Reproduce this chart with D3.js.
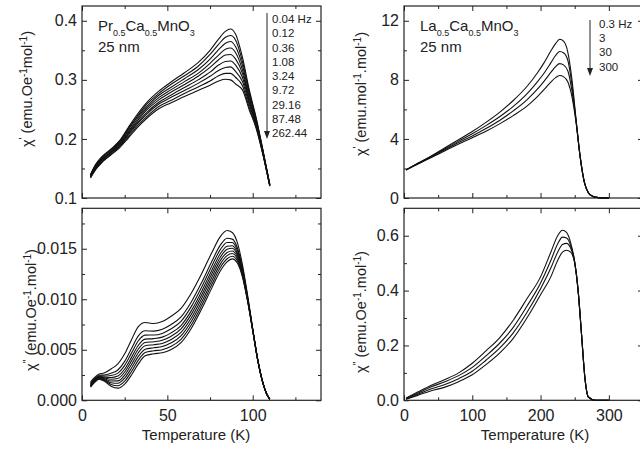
<!DOCTYPE html>
<html lang="en">
<head>
  <meta charset="UTF-8">
  <title>AC susceptibility of 25 nm manganites</title>
  <script src="https://d3js.org/d3.v7.min.js"></script>
  <style>
    body { margin: 0; background: #fff; }
    svg { display: block; font-family: "Liberation Sans", Arial, sans-serif; }
    .tick text { font-family: "Liberation Sans", Arial, sans-serif; font-size: 16px; fill: #222; }
    .tick line { stroke: #222; stroke-width: 1; }
    .curve { fill: none; stroke: #111; stroke-width: 1.1; }
    .frame { fill: none; stroke: #222; stroke-width: 1.2; }
    .label { fill: #222; }
  </style>
</head>
<body>
  <div id="chart"></div>
  <script>
    // ---- data ----
    const prFreqs = ["0.04 Hz", "0.12", "0.36", "1.08", "3.24", "9.72", "29.16", "87.48", "262.44"];
    const laFreqs = ["0.3 Hz", "3", "30", "300"];

    // Pr0.5Ca0.5MnO3, chi' (emu/Oe/mol)
    const prTempRe = [5, 8, 12, 17, 22, 27, 32, 38, 45, 52, 60, 68, 75, 80, 84, 87, 90, 94, 98, 102, 106, 110];
    const prRe004 = [0.140, 0.157, 0.171, 0.183, 0.197, 0.219, 0.240, 0.262, 0.281, 0.296, 0.312, 0.329, 0.350, 0.369, 0.382, 0.386, 0.377, 0.338, 0.283, 0.236, 0.181, 0.123];
    const prRe012 = [0.139, 0.156, 0.170, 0.182, 0.196, 0.217, 0.237, 0.259, 0.277, 0.292, 0.307, 0.323, 0.343, 0.360, 0.372, 0.375, 0.367, 0.331, 0.279, 0.234, 0.180, 0.123];
    const prRe036 = [0.139, 0.155, 0.169, 0.181, 0.194, 0.215, 0.235, 0.255, 0.274, 0.287, 0.302, 0.317, 0.335, 0.351, 0.362, 0.365, 0.356, 0.324, 0.275, 0.232, 0.179, 0.122];
    const prRe108 = [0.138, 0.154, 0.167, 0.179, 0.193, 0.212, 0.232, 0.252, 0.270, 0.283, 0.297, 0.311, 0.328, 0.342, 0.352, 0.354, 0.346, 0.317, 0.270, 0.229, 0.178, 0.122];
    const prRe324 = [0.137, 0.153, 0.166, 0.178, 0.191, 0.210, 0.229, 0.249, 0.266, 0.279, 0.292, 0.306, 0.321, 0.334, 0.342, 0.343, 0.335, 0.311, 0.266, 0.227, 0.177, 0.122];
    const prRe972 = [0.136, 0.151, 0.165, 0.177, 0.190, 0.208, 0.226, 0.245, 0.262, 0.274, 0.287, 0.300, 0.313, 0.325, 0.331, 0.332, 0.325, 0.304, 0.262, 0.225, 0.176, 0.121];
    const prRe2916 = [0.136, 0.150, 0.164, 0.176, 0.188, 0.206, 0.224, 0.242, 0.259, 0.270, 0.282, 0.294, 0.306, 0.316, 0.321, 0.322, 0.314, 0.297, 0.258, 0.223, 0.175, 0.121];
    const prRe8748 = [0.135, 0.149, 0.162, 0.174, 0.187, 0.203, 0.221, 0.238, 0.255, 0.265, 0.277, 0.288, 0.298, 0.307, 0.311, 0.311, 0.304, 0.290, 0.253, 0.220, 0.174, 0.120];
    const prRe26244 = [0.134, 0.148, 0.161, 0.173, 0.185, 0.201, 0.218, 0.235, 0.251, 0.261, 0.272, 0.282, 0.291, 0.298, 0.301, 0.300, 0.293, 0.283, 0.249, 0.218, 0.173, 0.120];

    // Pr0.5Ca0.5MnO3, chi'' (emu/Oe/mol)
    const prTempIm = [5, 7, 10, 13, 17, 21, 25, 29, 33, 37, 42, 47, 52, 58, 64, 70, 76, 81, 85, 88, 91, 94, 97, 100, 103, 106, 108, 110];
    const prIm004 = [0.0018, 0.0022, 0.0026, 0.0027, 0.0031, 0.0036, 0.0046, 0.0060, 0.0073, 0.0077, 0.0076, 0.0078, 0.0083, 0.0091, 0.0106, 0.0125, 0.0146, 0.0162, 0.0168, 0.0166, 0.0156, 0.0134, 0.0104, 0.0071, 0.0040, 0.0017, 0.0007, 0.0001];
    const prIm012 = [0.00168, 0.00208, 0.00248, 0.0025, 0.00268, 0.0030, 0.00385, 0.00513, 0.00638, 0.00688, 0.00685, 0.00703, 0.00748, 0.00825, 0.00973, 0.01163, 0.01373, 0.01535, 0.01603, 0.01595, 0.0151, 0.0131, 0.01025, 0.00705, 0.00398, 0.0017, 0.0007, 0.0001];
    const prIm036 = [0.00161, 0.00201, 0.00241, 0.0024, 0.00245, 0.00269, 0.00346, 0.00467, 0.00589, 0.00645, 0.00646, 0.00662, 0.00705, 0.00781, 0.00927, 0.01117, 0.01327, 0.01491, 0.01562, 0.01561, 0.01484, 0.01294, 0.01017, 0.00702, 0.00396, 0.0017, 0.0007, 0.0001];
    const prIm108 = [0.00155, 0.00195, 0.00235, 0.0023, 0.00225, 0.0024, 0.0031, 0.00425, 0.00545, 0.00605, 0.0061, 0.00625, 0.00665, 0.0074, 0.00885, 0.01075, 0.01285, 0.0145, 0.01525, 0.0153, 0.0146, 0.0128, 0.0101, 0.0070, 0.00395, 0.0017, 0.0007, 0.0001];
    const prIm324 = [0.0015, 0.0019, 0.0023, 0.00222, 0.00208, 0.00216, 0.0028, 0.0039, 0.00508, 0.00572, 0.0058, 0.00594, 0.00632, 0.00706, 0.0085, 0.0104, 0.0125, 0.01416, 0.01494, 0.01504, 0.0144, 0.01268, 0.01004, 0.00698, 0.00394, 0.0017, 0.0007, 0.0001];
    const prIm972 = [0.00145, 0.00185, 0.00225, 0.00214, 0.00191, 0.00192, 0.0025, 0.00355, 0.00471, 0.00539, 0.0055, 0.00563, 0.00599, 0.00672, 0.00815, 0.01005, 0.01215, 0.01382, 0.01463, 0.01478, 0.0142, 0.01256, 0.00998, 0.00696, 0.00393, 0.0017, 0.0007, 0.0001];
    const prIm2916 = [0.0014, 0.0018, 0.0022, 0.00206, 0.00174, 0.00168, 0.0022, 0.0032, 0.00434, 0.00506, 0.0052, 0.00532, 0.00566, 0.00638, 0.0078, 0.0097, 0.0118, 0.01348, 0.01432, 0.01452, 0.0140, 0.01244, 0.00992, 0.00694, 0.00392, 0.0017, 0.0007, 0.0001];
    const prIm8748 = [0.00135, 0.00175, 0.00215, 0.00198, 0.00157, 0.00144, 0.0019, 0.00285, 0.00397, 0.00473, 0.0049, 0.00501, 0.00533, 0.00604, 0.00745, 0.00935, 0.01145, 0.01314, 0.01401, 0.01426, 0.0138, 0.01232, 0.00986, 0.00692, 0.00391, 0.0017, 0.0007, 0.0001];
    const prIm26244 = [0.0013, 0.0017, 0.0021, 0.0019, 0.0014, 0.0012, 0.0016, 0.0025, 0.0036, 0.0044, 0.0046, 0.0047, 0.0050, 0.0057, 0.0071, 0.0090, 0.0111, 0.0128, 0.0137, 0.0140, 0.0136, 0.0122, 0.0098, 0.0069, 0.0039, 0.0017, 0.0007, 0.0001];

    // La0.5Ca0.5MnO3, chi' (emu/mol/mol)
    const laTempRe = [3, 20, 40, 60, 80, 100, 120, 140, 160, 180, 195, 205, 215, 222, 228, 234, 240, 246, 252, 258, 264, 270, 276, 282, 290, 300];
    const laRe03 = [1.9, 2.35, 2.85, 3.4, 3.95, 4.5, 5.12, 5.8, 6.6, 7.55, 8.45, 9.15, 9.95, 10.45, 10.75, 10.6, 9.85, 8.0, 5.3, 2.8, 1.1, 0.36, 0.12, 0.04, 0.01, 0];
    const laRe3 = [1.9, 2.33, 2.82, 3.33, 3.85, 4.35, 4.9, 5.5, 6.2, 7.05, 7.85, 8.45, 9.15, 9.65, 9.92, 9.82, 9.3, 7.65, 5.25, 2.8, 1.1, 0.36, 0.12, 0.04, 0.01, 0];
    const laRe30 = [1.9, 2.31, 2.78, 3.27, 3.75, 4.2, 4.7, 5.25, 5.9, 6.65, 7.35, 7.9, 8.5, 8.9, 9.1, 9.0, 8.6, 7.25, 5.2, 2.78, 1.09, 0.36, 0.12, 0.04, 0.01, 0];
    const laRe300 = [1.9, 2.29, 2.74, 3.2, 3.65, 4.08, 4.52, 5.02, 5.58, 6.22, 6.85, 7.33, 7.85, 8.15, 8.29, 8.2, 7.85, 6.85, 5.1, 2.75, 1.08, 0.36, 0.12, 0.04, 0.01, 0];

    // La0.5Ca0.5MnO3, chi'' (emu/Oe/mol)
    const laTempIm = [3, 20, 40, 60, 80, 100, 120, 140, 160, 180, 200, 215, 225, 232, 238, 244, 250, 255, 260, 265, 270, 280, 300];
    const laIm03 = [0.008, 0.030, 0.055, 0.076, 0.100, 0.135, 0.180, 0.228, 0.292, 0.370, 0.450, 0.540, 0.600, 0.620, 0.612, 0.575, 0.505, 0.40, 0.24, 0.08, 0.012, 0, 0];
    const laIm3 = [0.007, 0.026, 0.049, 0.068, 0.090, 0.120, 0.162, 0.208, 0.266, 0.343, 0.428, 0.510, 0.570, 0.595, 0.592, 0.565, 0.503, 0.40, 0.24, 0.08, 0.012, 0, 0];
    const laIm30 = [0.005, 0.022, 0.042, 0.058, 0.079, 0.106, 0.146, 0.190, 0.246, 0.320, 0.407, 0.482, 0.540, 0.568, 0.572, 0.555, 0.502, 0.40, 0.24, 0.08, 0.012, 0, 0];
    const laIm300 = [0.004, 0.018, 0.035, 0.048, 0.068, 0.093, 0.130, 0.172, 0.226, 0.300, 0.385, 0.450, 0.510, 0.540, 0.547, 0.540, 0.500, 0.40, 0.24, 0.08, 0.012, 0, 0];

    // ---- drawing ----
    const w = 640, h = 451;
    const svg = d3.select("#chart").append("svg").attr("width", w).attr("height", h);

    function drawPanel(p) {
      const x = d3.scaleLinear().domain(p.xDomain).range([p.left, p.left + p.width]);
      const y = d3.scaleLinear().domain(p.yDomain).range([p.top + p.height, p.top]);
      const g = svg.append("g");
      const bottom = p.top + p.height, right = p.left + p.width;

      const addAxis = (axis, tr) => g.append("g").attr("transform", tr).call(axis)
        .call(s => s.select(".domain").remove());

      // left (labelled) + right mirror
      addAxis(d3.axisLeft(y).tickValues(p.yMajor).tickSize(-5).tickPadding(5).tickFormat(p.yFormat), `translate(${p.left},0)`);
      addAxis(d3.axisLeft(y).tickValues(p.yMinor).tickSize(-3).tickFormat(""), `translate(${p.left},0)`);
      addAxis(d3.axisRight(y).tickValues(p.yMajor).tickSize(-5).tickFormat(""), `translate(${right},0)`);
      addAxis(d3.axisRight(y).tickValues(p.yMinor).tickSize(-3).tickFormat(""), `translate(${right},0)`);
      // bottom (labelled on lower panels) + top mirror
      addAxis(d3.axisBottom(x).tickValues(p.xMajor).tickSize(-5).tickPadding(9)
        .tickFormat(p.xLabels ? d3.format("d") : ""), `translate(0,${bottom})`);
      addAxis(d3.axisBottom(x).tickValues(p.xMinor).tickSize(-3).tickFormat(""), `translate(0,${bottom})`);
      addAxis(d3.axisTop(x).tickValues(p.xMajor).tickSize(-5).tickFormat(""), `translate(0,${p.top})`);
      addAxis(d3.axisTop(x).tickValues(p.xMinor).tickSize(-3).tickFormat(""), `translate(0,${p.top})`);

      g.append("rect").attr("class", "frame")
        .attr("x", p.left).attr("y", p.top).attr("width", p.width).attr("height", p.height);

      const line = d3.line()
        .x((d, i) => x(p.temps[i]))
        .y(d => y(d))
        .curve(d3.curveMonotoneX);

      g.selectAll(".curve").data(p.series).join("path")
        .attr("class", "curve")
        .attr("d", line);
    }

    // text with super/subscripts: parts = [[text, shift]], shift -1 sup, +1 sub
    function richText(sel, parts, size, small) {
      let prev = 0;
      parts.forEach(([t, s]) => {
        const shift = s === -1 ? -size * 0.38 : s === 1 ? size * 0.3 : 0;
        sel.append("tspan")
          .attr("dy", shift - prev)
          .attr("font-size", s ? small : size)
          .text(t);
        prev = shift;
      });
      return sel;
    }

    function yTitle(cx, cy, parts) {
      const t = svg.append("text").attr("class", "label")
        .attr("transform", `translate(${cx},${cy}) rotate(-90)`)
        .attr("text-anchor", "middle");
      richText(t, parts, 14.5, 10);
    }

    function xTitle(cx, cy, txt) {
      svg.append("text").attr("class", "label")
        .attr("x", cx).attr("y", cy)
        .attr("text-anchor", "middle")
        .attr("font-size", 15)
        .text(txt);
    }

    function compound(x0, y0, parts) {
      const t = svg.append("text").attr("class", "label").attr("x", x0).attr("y", y0);
      richText(t, parts, 15, 9);
      svg.append("text").attr("class", "label").attr("x", x0).attr("y", y0 + 21)
        .attr("font-size", 15).text("25 nm");
    }

    function legend(x0, y0, step, labels, arrowX, arrowTop, arrowTip) {
      svg.selectAll(null).data(labels).join("text")
        .attr("class", "label")
        .attr("x", x0)
        .attr("y", (d, i) => y0 + i * step)
        .attr("font-size", 11.5)
        .text(d => d);
      svg.append("line")
        .attr("x1", arrowX).attr("x2", arrowX)
        .attr("y1", arrowTop).attr("y2", arrowTip - 7)
        .attr("stroke", "#222").attr("stroke-width", 1);
      svg.append("path")
        .attr("d", `M${arrowX - 3},${arrowTip - 8} L${arrowX + 3},${arrowTip - 8} L${arrowX},${arrowTip} Z`)
        .attr("fill", "#222");
    }

    const leftX = 82, rightX = 404, panelW = 239;
    const topY = 6, lowY = 208.3, panelH = 192;

    drawPanel({
      left: leftX, top: topY, width: panelW, height: panelH,
      xDomain: [0, 140], yDomain: [0.1, 0.425],
      xMajor: [0, 50, 100], xMinor: [25, 75, 125],
      yMajor: [0.1, 0.2, 0.3, 0.4], yMinor: [0.15, 0.25, 0.35],
      yFormat: d3.format(".1f"), xLabels: false,
      temps: prTempRe,
      series: [prRe004, prRe012, prRe036, prRe108, prRe324, prRe972, prRe2916, prRe8748, prRe26244]
    });

    drawPanel({
      left: leftX, top: lowY, width: panelW, height: panelH,
      xDomain: [0, 140], yDomain: [0, 0.019],
      xMajor: [0, 50, 100], xMinor: [25, 75, 125],
      yMajor: [0, 0.005, 0.01, 0.015], yMinor: [0.0025, 0.0075, 0.0125, 0.0175],
      yFormat: d3.format(".3f"), xLabels: true,
      temps: prTempIm,
      series: [prIm004, prIm012, prIm036, prIm108, prIm324, prIm972, prIm2916, prIm8748, prIm26244]
    });

    drawPanel({
      left: rightX, top: topY, width: panelW, height: panelH,
      xDomain: [0, 350], yDomain: [0, 13],
      xMajor: [0, 100, 200, 300], xMinor: [50, 150, 250],
      yMajor: [0, 4, 8, 12], yMinor: [2, 6, 10],
      yFormat: d3.format("d"), xLabels: false,
      temps: laTempRe,
      series: [laRe03, laRe3, laRe30, laRe300]
    });

    drawPanel({
      left: rightX, top: lowY, width: panelW, height: panelH,
      xDomain: [0, 350], yDomain: [0, 0.7],
      xMajor: [0, 100, 200, 300], xMinor: [50, 150, 250],
      yMajor: [0, 0.2, 0.4, 0.6], yMinor: [0.1, 0.3, 0.5],
      yFormat: d3.format(".1f"), xLabels: true,
      temps: laTempIm,
      series: [laIm03, laIm3, laIm30, laIm300]
    });

    yTitle(32, 89, [["\u03c7", 0], ["'", -1], [" (emu.Oe", 0], ["-1", -1], ["mol", 0], ["-1", -1], [")", 0]]);
    yTitle(36, 310, [["\u03c7", 0], ["''", -1], [" (emu.Oe", 0], ["-1", -1], [".mol", 0], ["-1", -1], [")", 0]]);
    yTitle(366, 94, [["\u03c7", 0], ["'", -1], [" (emu.mol", 0], ["-1", -1], [".mol", 0], ["-1", -1], [")", 0]]);
    yTitle(366, 312, [["\u03c7", 0], ["''", -1], [" (emu.Oe", 0], ["-1", -1], [".mol", 0], ["-1", -1], [")", 0]]);

    xTitle(196, 440, "Temperature (K)");
    xTitle(535, 440, "Temperature (K)");

    compound(98, 31, [["Pr", 0], ["0.5", 1], ["Ca", 0], ["0.5", 1], ["MnO", 0], ["3", 1]]);
    compound(420, 31, [["La", 0], ["0.5", 1], ["Ca", 0], ["0.5", 1], ["MnO", 0], ["3", 1]]);

    legend(272, 23, 14.25, prFreqs, 267, 13, 139);
    legend(599, 27.5, 14.45, laFreqs, 590, 20, 76);
  </script>
</body>
</html>
